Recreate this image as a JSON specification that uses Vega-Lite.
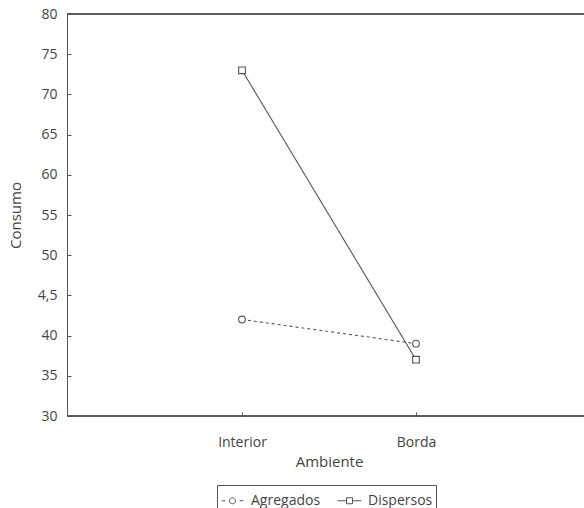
{
  "$schema": "https://vega.github.io/schema/vega-lite/v6.json",
  "width": 517,
  "height": 402,
  "autosize": {"type": "none"},
  "padding": {"left": 67, "top": 14, "right": 0, "bottom": 92},
  "background": "white",
  "config": {
    "view": {"stroke": null},
    "font": "Open Sans",
    "axis": {"labelColor": "#444", "titleColor": "#444", "titleFontWeight": "normal", "domainColor": "#555", "tickColor": "#555", "grid": false}
  },
  "data": {"values": [
    {"Ambiente": "Interior", "Grupo": "Agregados", "Consumo": 42},
    {"Ambiente": "Borda", "Grupo": "Agregados", "Consumo": 39},
    {"Ambiente": "Interior", "Grupo": "Dispersos", "Consumo": 73},
    {"Ambiente": "Borda", "Grupo": "Dispersos", "Consumo": 37}
  ]},
  "encoding": {
    "x": {"field": "Ambiente", "type": "nominal", "sort": ["Interior", "Borda"],
      "scale": {"type": "point", "domain": ["Interior", "Borda"], "range": [175, 349], "padding": 0},
      "axis": {"labelAngle": 0, "labelFontSize": 14, "labelPadding": 23, "tickSize": -4, "domain": false, "titleFontSize": 15, "titlePadding": 5, "title": "Ambiente"}},
    "y": {"field": "Consumo", "type": "quantitative",
      "scale": {"domain": [30, 80], "nice": false, "zero": false},
      "axis": {"values": [30, 35, 40, 45, 50, 55, 60, 65, 70, 75, 80], "labelExpr": "datum.value == 45 ? '4,5' : datum.label", "labelFontSize": 14, "labelPadding": 14, "tickSize": -4, "titleFontSize": 15, "titlePadding": 14, "title": "Consumo"}}
  },
  "layer": [
    {
      "mark": {"type": "line", "color": "#555", "strokeWidth": 1.1},
      "encoding": {
        "detail": {"field": "Grupo", "type": "nominal"},
        "strokeDash": {"condition": {"test": "datum.Grupo === 'Agregados'", "value": [3, 3]}, "value": [1, 0]},
        "opacity": {"field": "Grupo", "type": "nominal",
          "scale": {"domain": ["Agregados", "Dispersos"], "range": [1, 1]},
          "legend": {
            "title": null, "orient": "none", "legendX": 150, "legendY": 471, "direction": "horizontal",
            "strokeColor": "#555", "padding": 3, "columnPadding": 14, "labelFontSize": 14, "labelColor": "#444",
            "symbolSize": 576, "symbolStrokeWidth": 1, "symbolStrokeColor": "#555", "labelOffset": 6,
            "encode": {"symbols": {"update": {
              "shape": {"signal": "datum.value === 'Agregados' ? 'M-0.9,0 L-0.6,0 M0.6,0 L0.9,0 M-0.25,0 A0.25,0.25 0 1,0 0.25,0 A0.25,0.25 0 1,0 -0.25,0' : 'M-1,0 L-0.25,0 M0.25,0 L1,0 M-0.25,-0.25 L0.25,-0.25 L0.25,0.25 L-0.25,0.25 Z'"},
              "fill": {"value": "white"},
              "stroke": {"value": "#555"},
              "opacity": {"value": 1}
            }}}
          }}
      }
    },
    {
      "transform": [{"filter": "datum.Grupo === 'Agregados'"}],
      "mark": {"type": "point", "shape": "circle", "filled": true, "fill": "white", "stroke": "#555", "strokeWidth": 1.1, "opacity": 1, "size": 45}
    },
    {
      "transform": [{"filter": "datum.Grupo === 'Dispersos'"}],
      "mark": {"type": "point", "shape": "square", "filled": true, "fill": "white", "stroke": "#555", "strokeWidth": 1.1, "opacity": 1, "size": 45}
    },
    {
      "mark": {"type": "rule", "color": "#555", "strokeWidth": 1},
      "encoding": {"y": {"datum": 80}, "x": null}
    },
    {
      "mark": {"type": "rule", "color": "#555", "strokeWidth": 1},
      "encoding": {"y": {"datum": 30}, "x": null}
    }
  ]
}
